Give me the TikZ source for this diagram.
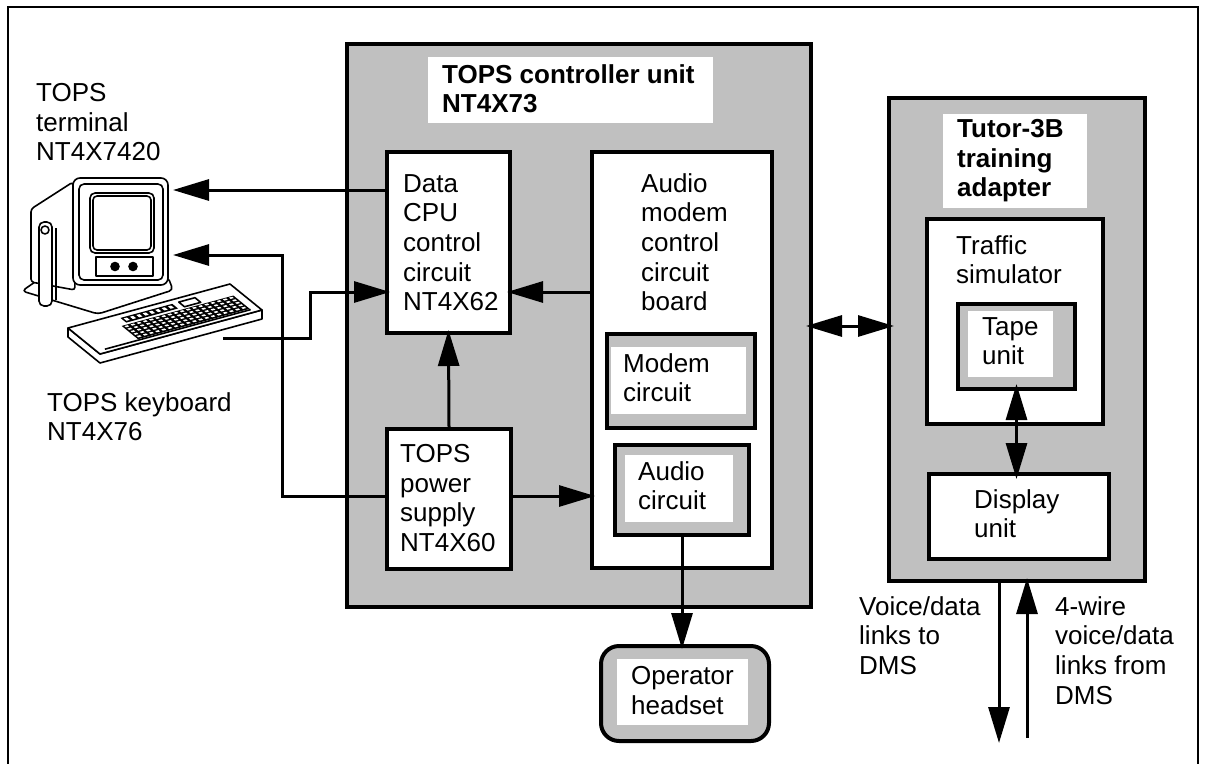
\documentclass[tikz,border=0pt]{standalone}
\usepackage{fontspec}
\setmainfont{Liberation Sans}
\usetikzlibrary{arrows.meta}
\definecolor{panelgray}{RGB}{192,192,192}
\begin{document}
\begin{tikzpicture}[x=1pt,y=-1pt,
  every node/.style={inner sep=0pt},
  graybox/.style={draw, line width=4pt, fill=panelgray, anchor=north west},
  whitebox/.style={draw, line width=4pt, fill=white, anchor=north west},
  plate/.style={fill=white, anchor=north west},
  lbl/.style={anchor=north west, align=left, font=\fontsize{26}{29.7}\selectfont},
  boldlbl/.style={anchor=north west, align=left, font=\fontsize{26}{29.7}\selectfont\bfseries},
  conn/.style={line width=3pt, shorten >=-5pt, -{Triangle[length=36pt,width=21pt]}},
  conntwo/.style={line width=3pt, shorten >=-7pt, shorten <=-7pt,
    {Triangle[length=36pt,width=21pt]}-{Triangle[length=36pt,width=21pt]}},
]
\useasboundingbox (0,0) rectangle (1207,763);
\fill[white] (0,0) rectangle (1207,763);
\draw[line width=2pt] (8,7) rectangle (1198,775);

% ---------- TOPS controller unit ----------
\node[graybox, minimum width=464pt, minimum height=563pt] (ctrl) at (345,42) {};
\node[plate, minimum width=285pt, minimum height=66pt] (ctrltitle) at (428,57) {};
\node[boldlbl] (ctrltxt) at (442,64) {TOPS controller unit\\NT4X73};

\node[whitebox, minimum width=123pt, minimum height=181pt] (data) at (385,150) {};
\node[lbl] (datatxt) at (403,174) {Data\\CPU\\control\\circuit\\NT4X62};

\node[whitebox, minimum width=124pt, minimum height=140pt] (power) at (385,427) {};
\node[lbl] (powertxt) at (400,444) {TOPS\\power\\supply\\NT4X60};

\node[whitebox, minimum width=180pt, minimum height=416pt] (board) at (590,150) {};
\node[lbl] (boardtxt) at (641,173) {Audio\\modem\\control\\circuit\\board};

\node[graybox, minimum width=148pt, minimum height=94pt] (modem) at (605,332) {};
\node[plate, minimum width=135pt, minimum height=67pt] (modemplate) at (611,347) {};
\node[lbl] (modemtxt) at (623,353) {Modem\\circuit};

\node[graybox, minimum width=134pt, minimum height=90pt] (audio) at (613,443) {};
\node[plate, minimum width=108pt, minimum height=67pt] (audioplate) at (625,455) {};
\node[lbl] (audiotxt) at (638,461) {Audio\\circuit};

% ---------- operator headset ----------
\node[graybox, rounded corners=18pt, minimum width=168pt, minimum height=95pt] (headset) at (599,644) {};
\node[plate, minimum width=131pt, minimum height=66pt] (headsetplate) at (617,659) {};
\node[lbl] (headsettxt) at (631,666) {Operator\\headset};

% ---------- Tutor-3B training adapter ----------
\node[graybox, minimum width=256pt, minimum height=483pt] (tutor) at (887,96) {};
\node[plate, minimum width=144pt, minimum height=94pt] (tutortitle) at (943,114) {};
\node[boldlbl] (tutortxt) at (957,119) {Tutor-3B\\training\\adapter};

\node[whitebox, minimum width=176pt, minimum height=205pt] (traffic) at (925,217) {};
\node[lbl] (traffictxt) at (956,235) {Traffic\\simulator};

\node[graybox, minimum width=117pt, minimum height=85pt] (tape) at (956,302) {};
\node[plate, minimum width=85pt, minimum height=66pt] (tapeplate) at (968,311) {};
\node[lbl] (tapetxt) at (982,317) {Tape\\unit};

\node[whitebox, minimum width=180pt, minimum height=85pt] (display) at (927,472) {};
\node[lbl] (displaytxt) at (974,489) {Display\\unit};

% ---------- outside labels ----------
\node[lbl] (termtxt) at (36,83) {TOPS\\terminal\\NT4X7420};
\node[lbl] (kbdtxt) at (47,392) {TOPS keyboard\\NT4X76};
\node[lbl] (outtxt) at (859,596) {Voice/data\\links to\\DMS};
\node[lbl] (intxt) at (1055,596) {4-wire\\voice/data\\links from\\DMS};

% ---------- terminal and keyboard drawing ----------
\begin{scope}[line width=1.6pt, line join=round]
  % base plate
  \draw[fill=white, rounded corners=4pt] (22,291) -- (48,273) -- (168,277) -- (173,290) -- (98,314) -- cycle;
  % cabinet side
  \draw[fill=white, rounded corners=3pt] (73,182) -- (31,209) -- (31,282) -- (75,290) -- cycle;
  % stand post and cable
  \draw[fill=white, rounded corners=5pt] (39,222) rectangle (52,306);
  \draw (45,230) circle (4);
  \draw (56,228) -- (56,300);
  % front bezel
  \draw[fill=white, rounded corners=7pt] (73,178) rectangle (168,285);
  \draw[rounded corners=5pt] (79,184) rectangle (163,280);
  % screen
  \draw[fill=white, rounded corners=5pt] (90,193) rectangle (154,253);
  \draw[rounded corners=4pt] (93,196) rectangle (151,250);
  % control strip and knobs
  \draw (96,257) rectangle (153,276);
  \fill (115,266.5) circle (4.8);
  \fill (133,266.5) circle (4.8);
  % keyboard body thickness
  \draw[fill=white] (68,328) -- (68,337) -- (100,363) -- (262,319) -- (262,310) -- (100,354) -- cycle;
  % keyboard top face
  \begin{scope}[shift={(68,328)}, x={(162pt,44pt)}, y={(32pt,-26pt)}]
    \draw[fill=white] (0,0) -- (1,0) -- (1,1) -- (0,1) -- cycle;
    \draw (0.05,0.9) -- (0.95,0.9);
    % main key field
    \fill (0.26,0.36) -- (0.95,0.36) -- (0.95,0.87) -- (0.26,0.87) -- cycle;
    \foreach \i in {0,...,17} {
      \foreach \j in {0,...,4} {
        \fill[white] ({0.272+\i*0.038},{0.385+\j*0.096}) -- ++(0.02,0) -- ++(0,0.05) -- ++(-0.02,0) -- cycle;
      }
    }
    % function key row
    \fill (0.3,0.12) -- (0.62,0.12) -- (0.62,0.3) -- (0.3,0.3) -- cycle;
    \foreach \i in {0,...,7} {
      \fill[white] ({0.312+\i*0.039},0.16) -- ++(0.02,0) -- ++(0,0.09) -- ++(-0.02,0) -- cycle;
    }
    \draw (0.66,0.12) -- (0.76,0.12) -- (0.76,0.3) -- (0.66,0.3) -- cycle;
  \end{scope}
\end{scope}
\coordinate (termtop) at (178,190);
\coordinate (termlow) at (178,255);
\coordinate (kbd) at (223,338);

% ---------- connectors ----------
\draw[conn] (data.west |- 0,190) -- (termtop);
\draw[conn] (power.west |- 0,496) -- ++(-103,0) |- (termlow);
\draw[conn] (kbd) -- ++(87,0) |- (data.west |- 0,292);
\draw[conn] (board.west |- 0,292) -- (data.east |- 0,292);
\draw[conn] (power.north) -- (data.south);
\draw[conn] (power.east |- 0,496) -- (board.west |- 0,496);
\draw[conn] (audio.south) -- (audio.south |- headset.north);
\draw[conntwo] (ctrl.east |- 0,326) -- (tutor.west |- 0,326);
\draw[conntwo] (tape.south) -- (tape.south |- display.north);
\coordinate (dmsout) at (999,738);
\coordinate (dmsin) at (1027,738);
\draw[conn] (tutor.south -| dmsout) -- (dmsout);
\draw[conn] (dmsin) -- (tutor.south -| dmsin);
\end{tikzpicture}
\end{document}
